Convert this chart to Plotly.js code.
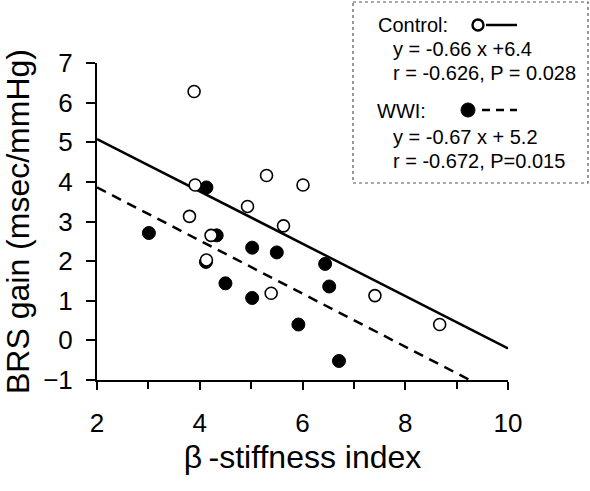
<!DOCTYPE html>
<html>
<head>
<meta charset="utf-8">
<script src="https://cdn.plot.ly/plotly-3.0.1.min.js"></script>
<style>html,body{margin:0;padding:0;background:#fff;}#chart{width:590px;height:491px;}</style>
</head>
<body>
<div id="chart"></div>
<script>
// Control group (open circles)
var controlX = [3.89, 3.91, 5.30, 6.01, 4.93, 3.80, 5.63, 4.22, 4.13, 5.39, 7.41, 8.67];
var controlY = [6.28, 3.92, 4.16, 3.92, 3.38, 3.13, 2.89, 2.65, 2.03, 1.19, 1.13, 0.40];
// WWI group (filled circles)
var wwiX = [4.13, 3.01, 4.33, 4.12, 5.02, 5.50, 6.44, 4.50, 6.52, 5.02, 5.92, 6.71];
var wwiY = [3.86, 2.71, 2.65, 1.98, 2.34, 2.22, 1.93, 1.44, 1.36, 1.07, 0.40, -0.52];
// Regression fits
var controlSlope = -0.66, controlIntercept = 6.4;
var wwiSlope = -0.67, wwiIntercept = 5.2;
var fitX = [2, 10];
// Axis ticks
var xTickVals = [2, 4, 6, 8, 10];
var yTickVals = [-1, 0, 1, 2, 3, 4, 5, 6, 7];
// Legend text
var legendLines = ["Control:", "y = -0.66 x +6.4", "r = -0.626, P = 0.028", "WWI:", "y = -0.67 x + 5.2", "r = -0.672, P=0.015"];

var FONT = "Liberation Sans, Arial, sans-serif";
var L = 97, R = 508, T = 63, B = 380;
function px(x) { return (x - L) / (R - L); }
function py(y) { return (B - y) / (B - T); }

var controlFitY = fitX.map(function (x) { return controlSlope * x + controlIntercept; });
var wwiFitY = fitX.map(function (x) { return wwiSlope * x + wwiIntercept; });

var traces = [
  {x: fitX, y: controlFitY, mode: 'lines', line: {color: '#000', width: 2.5}, hoverinfo: 'skip'},
  {x: fitX, y: wwiFitY, mode: 'lines', line: {color: '#000', width: 2.5, dash: '10px,7px'}, hoverinfo: 'skip'},
  {x: wwiX, y: wwiY, mode: 'markers', marker: {size: 13, color: '#000', line: {color: '#000', width: 1}}},
  {x: controlX, y: controlY, mode: 'markers', marker: {size: 12, color: '#fff', line: {color: '#000', width: 1.6}}}
];

var annotations = [];
var legX = [376, 391, 391, 375, 391, 391];
var legY = [25, 49, 73, 111, 137, 161];
for (var i = 0; i < legendLines.length; i++) {
  annotations.push({xref: 'paper', yref: 'paper', x: px(legX[i]), y: py(legY[i]), xanchor: 'left', yanchor: 'middle',
    text: legendLines[i], showarrow: false, font: {family: FONT, size: 20, color: '#000'}});
}

var shapes = [
  {type: 'rect', xref: 'paper', yref: 'paper', x0: px(353), x1: px(588), y0: py(2), y1: py(183),
   line: {color: '#555', width: 1.2, dash: 'dot'}, fillcolor: '#fff', layer: 'above'},
  // Control legend symbol
  {type: 'circle', xref: 'paper', yref: 'paper', xsizemode: 'pixel', ysizemode: 'pixel',
   xanchor: px(478), yanchor: py(25), x0: -5.5, x1: 5.5, y0: -5.5, y1: 5.5,
   line: {color: '#000', width: 2.4}, fillcolor: '#fff', layer: 'above'},
  {type: 'line', xref: 'paper', yref: 'paper', x0: px(486), x1: px(517), y0: py(25), y1: py(25),
   line: {color: '#000', width: 2.5}, layer: 'above'},
  // WWI legend symbol
  {type: 'circle', xref: 'paper', yref: 'paper', xsizemode: 'pixel', ysizemode: 'pixel',
   xanchor: px(468), yanchor: py(110), x0: -7, x1: 7, y0: -7, y1: 7,
   line: {color: '#000', width: 1}, fillcolor: '#000', layer: 'above'},
  {type: 'line', xref: 'paper', yref: 'paper', x0: px(482), x1: px(517), y0: py(110), y1: py(110),
   line: {color: '#000', width: 2.5, dash: '8px,6px'}, layer: 'above'}
];

var layout = {
  width: 590, height: 491,
  margin: {l: L, r: 590 - R, t: T, b: 491 - B, pad: 0},
  paper_bgcolor: '#fff', plot_bgcolor: '#fff',
  showlegend: false,
  font: {family: FONT, color: '#000'},
  xaxis: {
    range: [2, 10], tickvals: xTickVals, ticktext: xTickVals.map(String),
    ticks: 'outside', ticklen: 8, tickwidth: 2, tickcolor: '#000',
    minor: {tickvals: [3, 5, 7, 9], ticks: 'outside', ticklen: 7, tickwidth: 2, tickcolor: '#000'},
    showline: true, linecolor: '#000', linewidth: 2, showgrid: false, zeroline: false,
    tickfont: {family: FONT, size: 26}, ticklabelstandoff: 11,
    title: {text: 'β\u2009-stiffness index', font: {family: FONT, size: 32}, standoff: 8}
  },
  yaxis: {
    range: [-1, 7], tickvals: yTickVals,
    ticks: 'outside', ticklen: 9, tickwidth: 2, tickcolor: '#000',
    showline: true, linecolor: '#000', linewidth: 2, showgrid: false, zeroline: false,
    tickfont: {family: FONT, size: 26}, ticklabelstandoff: 8,
    title: {text: 'BRS gain (msec/mmHg)', font: {family: FONT, size: 32}, standoff: 6}
  },
  annotations: annotations,
  shapes: shapes
};

Plotly.newPlot('chart', traces, layout, {displayModeBar: false, staticPlot: true});
</script>
</body>
</html>
